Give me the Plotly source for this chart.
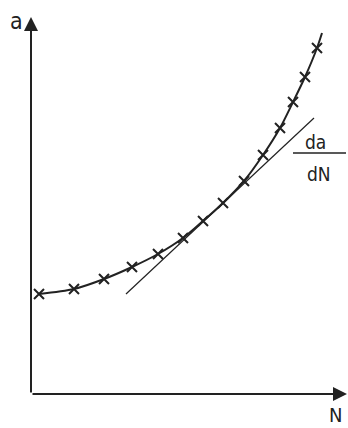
import plotly.graph_objects as go

# Measured data (arbitrary units)
N_points = [0.8, 4.3, 7.3, 10.1, 12.7, 15.2, 17.2, 19.2, 21.3, 23.2, 24.9, 26.2, 27.4, 28.6]
a_points = [10.0, 10.5, 11.5, 12.7, 14.0, 15.6, 17.3, 19.1, 21.3, 23.9, 26.6, 29.2, 31.7, 34.6]
N_curve_end = 29.1
a_curve_end = 36.1
N_tangent = [9.5, 28.3]
a_tangent = [10.0, 27.6]
N_max = 31.6
a_max = 37.7

ink = "#222222"
font_family = "DejaVu Sans Condensed, Liberation Sans Narrow, DejaVu Sans"

fig = go.Figure()
fig.add_trace(go.Scatter(
    x=N_points + [N_curve_end], y=a_points + [a_curve_end],
    mode="lines", line=dict(color=ink, width=2, shape="spline", smoothing=0.8),
    hoverinfo="skip", showlegend=False))
fig.add_trace(go.Scatter(
    x=N_tangent, y=a_tangent, mode="lines",
    line=dict(color=ink, width=1.2), showlegend=False))
fig.add_trace(go.Scatter(
    x=N_points, y=a_points, mode="markers",
    marker=dict(symbol="x-thin", size=10, line=dict(color=ink, width=2)),
    showlegend=False))

# axes arrows
fig.add_annotation(x=0, y=a_max, ax=0, ay=0, xref="x", yref="y", axref="x", ayref="y",
                   showarrow=True, arrowhead=2, arrowsize=1.4, arrowwidth=2, arrowcolor=ink, text="")
fig.add_annotation(x=N_max, y=0, ax=0, ay=0, xref="x", yref="y", axref="x", ayref="y",
                   showarrow=True, arrowhead=2, arrowsize=1.4, arrowwidth=2, arrowcolor=ink, text="")

fig.add_annotation(x=-0.045, y=0.99, xref="paper", yref="paper", xanchor="center", yanchor="middle",
                   text="a", showarrow=False, font=dict(family=font_family, size=23, color=ink))
fig.add_annotation(x=0.965, y=-0.055, xref="paper", yref="paper", xanchor="center", yanchor="middle",
                   text="N", showarrow=False, font=dict(family=font_family, size=20, color=ink))
fig.add_annotation(x=28.4, y=25.2, xanchor="center", yanchor="middle", text="da", showarrow=False,
                   font=dict(family=font_family, size=19, color=ink))
fig.add_annotation(x=28.8, y=22.0, xanchor="center", yanchor="middle", text="dN", showarrow=False,
                   font=dict(family=font_family, size=19, color=ink))
fig.add_shape(type="line", x0=26.2, x1=31.5, y0=24.1, y1=24.1,
              line=dict(color=ink, width=1.5))

fig.update_layout(
    width=348, height=428,
    margin=dict(l=31, r=1, t=17, b=34),
    paper_bgcolor="white", plot_bgcolor="white",
    xaxis=dict(range=[0, N_max], visible=False, fixedrange=True),
    yaxis=dict(range=[0, a_max], visible=False, fixedrange=True),
)
fig.write_html("out.html", config={"displayModeBar": False},
               post_script="document.body.style.margin='0';document.body.style.overflow='hidden';")
